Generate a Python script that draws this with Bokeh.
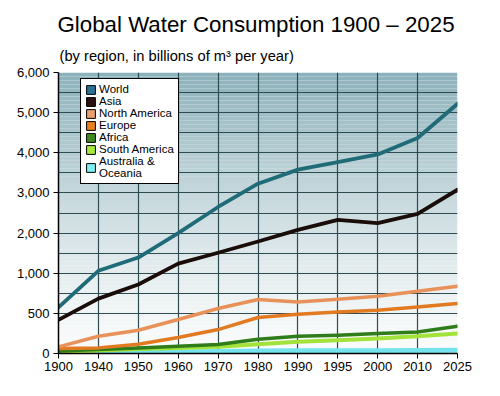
from bokeh.plotting import figure
from bokeh.models import (Range1d, FixedTicker, Title, Legend, LegendItem, ColumnDataSource)
from bokeh.embed import file_html
from bokeh.resources import INLINE

years = ["1900", "1940", "1950", "1960", "1970", "1980", "1990", "1995", "2000", "2010", "2025"]

world = [575, 1060, 1390, 2000, 2650, 3230, 3580, 3770, 3960, 4370, 5220]
asia = [420, 684, 860, 1240, 1510, 1790, 2080, 2330, 2250, 2480, 3080]
north_america = [82, 215, 290, 423, 560, 672, 642, 675, 712, 775, 837]
europe = [62, 70, 115, 199, 298, 448, 489, 517, 538, 580, 622]
africa = [32, 50, 70, 91, 112, 178, 215, 228, 249, 269, 340]
south_america = [22, 38, 55, 70, 84, 115, 145, 165, 186, 215, 249]
oceania = [6, 10, 15, 20, 25, 30, 33, 35, 35, 38, 40]

y_tick_values = [0, 500, 1000, 2000, 3000, 4000, 5000, 6000]
y_tick_labels = ["0", "500", "1,000", "2,000", "3,000", "4,000", "5,000", "6,000"]

series_names = ["World", "Asia", "North America", "Europe", "Africa", "South America", "Australia &\nOceania"]
series_data = [world, asia, north_america, europe, africa, south_america, oceania]
line_colors = ["#1f6b78", "#1a0c08", "#e8925a", "#e27a22", "#2f7d1a", "#a3e23a", "#74e3ee"]
legend_colors = ["#2a6f96", "#2a1010", "#e8a070", "#e8801e", "#3e8a22", "#a8e838", "#7ef0f4"]
line_widths = [3.8, 3.8, 3.5, 3.5, 3.5, 4, 5]


def to_units(v):
    # piecewise scale of the original chart: 0-1000 stretched, 1000+ linear
    if v <= 1000:
        return v / 500.0
    return 2.0 + (v - 1000) / 1000.0


FONT = "Liberation Sans"
W, H = 484, 380

p = figure(width=W, height=H, output_backend="svg", toolbar_location=None,
           x_range=Range1d(0, len(years) - 1), y_range=Range1d(0, to_units(6000)),
           min_border_left=58, min_border_right=W - 457, min_border_top=72, min_border_bottom=H - 353,
           background_fill_color="white", border_fill_color="white")
p.outline_line_color = None

# gradient plot background (decorative)
n = 70
top_rgb = (140, 177, 186)
bot_rgb = (250, 251, 251)
ymax = to_units(6000)
bottoms, tops, cols = [], [], []
for i in range(n):
    b = ymax * i / n
    t = ymax * (i + 1) / n
    f = ((i + 0.5) / n) ** 1.3  # 0 bottom, 1 top
    c = tuple(int(round(bot_rgb[k] + (top_rgb[k] - bot_rgb[k]) * f)) for k in range(3))
    bottoms.append(b)
    tops.append(t)
    cols.append("#%02x%02x%02x" % c)
p.quad(left=0, right=len(years) - 1, bottom=bottoms, top=tops, fill_color=cols,
       line_color=None, level="image")

xs = list(range(len(years)))
line_rs = []
for name, data, col, lw in zip(series_names, series_data, line_colors, line_widths):
    src = ColumnDataSource(dict(x=xs, y=[to_units(v) for v in data]))
    r = p.line("x", "y", source=src, line_color=col, line_width=lw, line_join="round", line_cap="round")
    line_rs.append(r)

p.renderers = [p.renderers[0]] + list(reversed(line_rs))

# axes
p.xaxis.ticker = FixedTicker(ticks=xs)
p.xaxis.major_label_overrides = {i: y for i, y in enumerate(years)}
p.yaxis.ticker = FixedTicker(ticks=[to_units(v) for v in y_tick_values])
p.yaxis.major_label_overrides = {to_units(v): l for v, l in zip(y_tick_values, y_tick_labels)}
for ax in (p.xaxis[0], p.yaxis[0]):
    ax.axis_line_color = "black"
    ax.axis_line_width = 1.5
    ax.major_tick_line_color = "black"
    ax.major_tick_out = 5
    ax.major_tick_in = 0
    ax.minor_tick_line_color = None
    ax.major_label_text_font = FONT
    ax.major_label_text_font_size = "13px"
    ax.major_label_text_color = "black"
p.yaxis.major_label_standoff = 4
p.xaxis.major_label_standoff = 3

# grid
p.xgrid.ticker = FixedTicker(ticks=xs)
p.ygrid.ticker = FixedTicker(ticks=[1 + 0.5 * i for i in range(13)])
for g in (p.xgrid[0], p.ygrid[0]):
    g.grid_line_color = "#2c4c52"
    g.grid_line_width = 1.2
    g.grid_line_alpha = 1.0

# legend with square swatches (swatch renderers sit outside the visible range)
items = []
for name, col in zip(series_names, legend_colors):
    sw = p.quad(left=[-20], right=[-19], top=[-19], bottom=[-20], fill_color=col,
                line_color="black", line_width=1)
    items.append(LegendItem(label=name, renderers=[sw]))
legend = Legend(items=items, location=(22, 169))
legend.border_line_color = "black"
legend.border_line_width = 1.5
legend.border_line_alpha = 1
legend.background_fill_color = "white"
legend.background_fill_alpha = 1
legend.label_text_font = FONT
legend.label_text_font_size = "11.5px"
legend.label_text_color = "black"
legend.glyph_width = 11
legend.glyph_height = 11
legend.label_height = 11
legend.label_standoff = 3
legend.spacing = 0
legend.padding = 4
legend.margin = 0
legend.label_text_line_height = 0.78
p.add_layout(legend, "center")

# titles
sub = Title(text="(by region, in billions of m\u00b3 per year)", align="left", offset=1, standoff=18,
            text_font=FONT, text_font_size="14.7px", text_font_style="normal", text_color="black")
main = Title(text="Global Water Consumption 1900 \u2013 2025", align="left", offset=-1, standoff=0,
             text_font=FONT, text_font_size="22.3px", text_font_style="normal", text_color="black")
p.add_layout(sub, "above")
p.add_layout(main, "above")

open("out.html", "w").write(file_html(p, INLINE))
